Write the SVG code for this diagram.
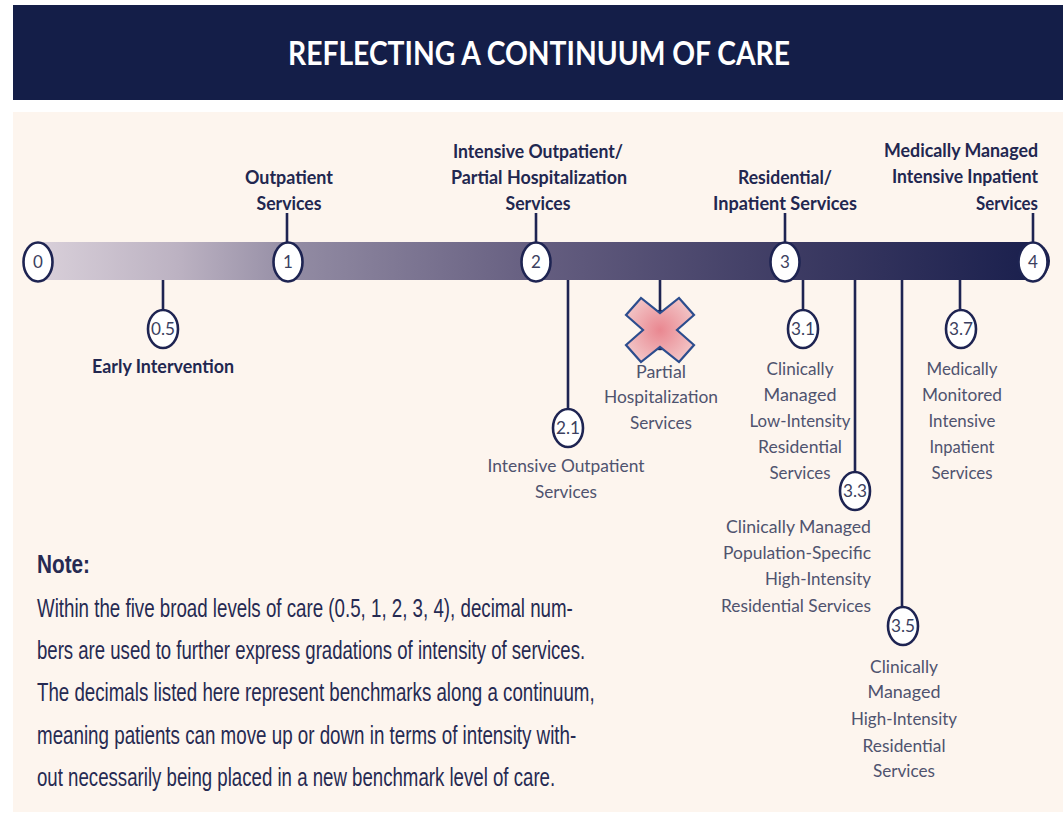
<svg xmlns="http://www.w3.org/2000/svg" width="1063" height="814" viewBox="0 0 1063 814">
<defs>
<linearGradient id="barGrad" x1="24" y1="0" x2="1050" y2="0" gradientUnits="userSpaceOnUse">
<stop offset="0" stop-color="#dcd3dc"/>
<stop offset="0.15" stop-color="#bcb2c2"/>
<stop offset="0.27" stop-color="#918aa2"/>
<stop offset="0.5" stop-color="#655e80"/>
<stop offset="0.75" stop-color="#3d3b63"/>
<stop offset="1" stop-color="#181e4c"/>
</linearGradient>
<radialGradient id="xGrad" cx="660" cy="330" r="40" gradientUnits="userSpaceOnUse">
<stop offset="0" stop-color="#e98790"/>
<stop offset="1" stop-color="#f3cacb"/>
</radialGradient>
<style>
.bold{font-family:Lato,"Liberation Sans",sans-serif;font-weight:bold;font-size:19px;fill:#222750;}
.reg{font-family:Lato,"Liberation Sans",sans-serif;font-size:17.5px;fill:#4f536e;}
.num{font-family:Lato,"Liberation Sans",sans-serif;font-size:17px;fill:#3b3f60;text-anchor:middle;}
.note{font-family:"Liberation Sans",sans-serif;font-size:26px;fill:#262a52;}
.mid{text-anchor:middle;}
.end{text-anchor:end;}
.node ellipse{fill:#ffffff;stroke:#1e2452;stroke-width:2.6;}
.conn line{stroke:#1e2452;stroke-width:2.6;}
</style>
</defs>
<rect x="0" y="0" width="1063" height="814" fill="#ffffff"/>
<rect x="13" y="5" width="1050" height="95" fill="#141e48"/>
<text x="288" y="65" font-family="Lato,'Liberation Sans',sans-serif" font-weight="bold" font-size="32" fill="#ffffff" textLength="502" lengthAdjust="spacingAndGlyphs">REFLECTING A CONTINUUM OF CARE</text>
<rect x="13" y="112" width="1050" height="700" fill="#fdf5ee"/>

<path d="M38 242 H1031 A19 19 0 0 1 1031 280 H38 Z" fill="url(#barGrad)"/>

<g id="connectors" class="conn">
<line x1="287" y1="213" x2="287" y2="243"/>
<line x1="536" y1="213" x2="536" y2="243"/>
<line x1="785" y1="213" x2="785" y2="243"/>
<line x1="1033" y1="213" x2="1033" y2="243"/>
<line x1="163" y1="280" x2="163" y2="311"/>
<line x1="568" y1="280" x2="568" y2="410"/>
<line x1="660" y1="280" x2="660" y2="312"/>
<line x1="803" y1="280" x2="803" y2="311"/>
<line x1="855" y1="280" x2="855" y2="473"/>
<line x1="902" y1="280" x2="902" y2="608"/>
<line x1="960" y1="280" x2="960" y2="311"/>
</g>

<g id="node-0" class="node"><ellipse cx="38" cy="262" rx="14.5" ry="19.5"/><text class="num" x="38" y="268">0</text></g>
<g id="node-1" class="node"><ellipse cx="288" cy="262" rx="14.5" ry="19.5"/><text class="num" x="288" y="268">1</text>
<text class="bold mid" x="289" y="184" textLength="88" lengthAdjust="spacingAndGlyphs">Outpatient</text>
<text class="bold mid" x="289" y="210" textLength="65" lengthAdjust="spacingAndGlyphs">Services</text></g>
<g id="node-2" class="node"><ellipse cx="536" cy="262" rx="14.5" ry="19.5"/><text class="num" x="536" y="268">2</text>
<text class="bold mid" x="538" y="158" textLength="170" lengthAdjust="spacingAndGlyphs">Intensive Outpatient/</text>
<text class="bold mid" x="539" y="184" textLength="176" lengthAdjust="spacingAndGlyphs">Partial Hospitalization</text>
<text class="bold mid" x="538" y="210" textLength="65" lengthAdjust="spacingAndGlyphs">Services</text></g>
<g id="node-3" class="node"><ellipse cx="785" cy="262" rx="14.5" ry="19.5"/><text class="num" x="785" y="268">3</text>
<text class="bold mid" x="785" y="184" textLength="94" lengthAdjust="spacingAndGlyphs">Residential/</text>
<text class="bold mid" x="785" y="210" textLength="144" lengthAdjust="spacingAndGlyphs">Inpatient Services</text></g>
<g id="node-4" class="node"><ellipse cx="1033" cy="262" rx="14.5" ry="19.5"/><text class="num" x="1033" y="268">4</text>
<text class="bold end" x="1038" y="157" textLength="154" lengthAdjust="spacingAndGlyphs">Medically Managed</text>
<text class="bold end" x="1038" y="183" textLength="146" lengthAdjust="spacingAndGlyphs">Intensive Inpatient</text>
<text class="bold end" x="1038" y="210" textLength="62" lengthAdjust="spacingAndGlyphs">Services</text></g>

<g id="node-0-5" class="node"><ellipse cx="163" cy="329" rx="15" ry="19"/><text class="num" x="163" y="335" textLength="24" lengthAdjust="spacingAndGlyphs">0.5</text>
<text class="bold mid" x="163" y="373" textLength="142" lengthAdjust="spacingAndGlyphs">Early Intervention</text></g>

<g id="node-2-1" class="node"><ellipse cx="568" cy="428" rx="15" ry="19"/><text class="num" x="568" y="434" textLength="24" lengthAdjust="spacingAndGlyphs">2.1</text>
<text class="reg mid" x="566" y="472" textLength="157" lengthAdjust="spacingAndGlyphs">Intensive Outpatient</text>
<text class="reg mid" x="566" y="498" textLength="62" lengthAdjust="spacingAndGlyphs">Services</text></g>

<g id="node-partial" class="node"><ellipse cx="660" cy="330" rx="15" ry="19"/>
<polygon points="626,315 641,298 660,313 679,298 694,315 677,330 694,345 679,362 660,347 641,362 626,345 643,330" fill="url(#xGrad)" stroke="#2c4d8e" stroke-width="2.2" stroke-linejoin="miter"/>
<text class="reg mid" x="661" y="378" textLength="50" lengthAdjust="spacingAndGlyphs">Partial</text>
<text class="reg mid" x="661" y="403" textLength="114" lengthAdjust="spacingAndGlyphs">Hospitalization</text>
<text class="reg mid" x="661" y="429" textLength="62" lengthAdjust="spacingAndGlyphs">Services</text></g>

<g id="node-3-1" class="node"><ellipse cx="803" cy="329" rx="15" ry="19"/><text class="num" x="803" y="335" textLength="24" lengthAdjust="spacingAndGlyphs">3.1</text>
<text class="reg mid" x="800" y="375" textLength="67" lengthAdjust="spacingAndGlyphs">Clinically</text>
<text class="reg mid" x="800" y="401" textLength="73" lengthAdjust="spacingAndGlyphs">Managed</text>
<text class="reg mid" x="800" y="427" textLength="101" lengthAdjust="spacingAndGlyphs">Low-Intensity</text>
<text class="reg mid" x="800" y="453" textLength="84" lengthAdjust="spacingAndGlyphs">Residential</text>
<text class="reg mid" x="800" y="479" textLength="61" lengthAdjust="spacingAndGlyphs">Services</text></g>

<g id="node-3-3" class="node"><ellipse cx="855" cy="491" rx="15" ry="19"/><text class="num" x="855" y="497" textLength="24" lengthAdjust="spacingAndGlyphs">3.3</text>
<text class="reg end" x="871" y="533" textLength="145" lengthAdjust="spacingAndGlyphs">Clinically Managed</text>
<text class="reg end" x="871" y="559" textLength="148" lengthAdjust="spacingAndGlyphs">Population-Specific</text>
<text class="reg end" x="871" y="585" textLength="106" lengthAdjust="spacingAndGlyphs">High-Intensity</text>
<text class="reg end" x="871" y="612" textLength="150" lengthAdjust="spacingAndGlyphs">Residential Services</text></g>

<g id="node-3-5" class="node"><ellipse cx="903" cy="626" rx="15" ry="19"/><text class="num" x="903" y="632" textLength="24" lengthAdjust="spacingAndGlyphs">3.5</text>
<text class="reg mid" x="904" y="673" textLength="68" lengthAdjust="spacingAndGlyphs">Clinically</text>
<text class="reg mid" x="904" y="698" textLength="73" lengthAdjust="spacingAndGlyphs">Managed</text>
<text class="reg mid" x="904" y="725" textLength="106" lengthAdjust="spacingAndGlyphs">High-Intensity</text>
<text class="reg mid" x="904" y="752" textLength="83" lengthAdjust="spacingAndGlyphs">Residential</text>
<text class="reg mid" x="904" y="777" textLength="62" lengthAdjust="spacingAndGlyphs">Services</text></g>

<g id="node-3-7" class="node"><ellipse cx="961" cy="329" rx="15" ry="19"/><text class="num" x="961" y="335" textLength="24" lengthAdjust="spacingAndGlyphs">3.7</text>
<text class="reg mid" x="962" y="375" textLength="71" lengthAdjust="spacingAndGlyphs">Medically</text>
<text class="reg mid" x="962" y="401" textLength="80" lengthAdjust="spacingAndGlyphs">Monitored</text>
<text class="reg mid" x="962" y="427" textLength="67" lengthAdjust="spacingAndGlyphs">Intensive</text>
<text class="reg mid" x="962" y="453" textLength="65" lengthAdjust="spacingAndGlyphs">Inpatient</text>
<text class="reg mid" x="962" y="479" textLength="61" lengthAdjust="spacingAndGlyphs">Services</text></g>

<g id="note" transform="translate(37,0) scale(0.68,1)">
<text class="note" x="0" y="573" font-weight="bold" textLength="78" lengthAdjust="spacingAndGlyphs">Note:</text>
<text class="note" x="0" y="617" textLength="788" lengthAdjust="spacingAndGlyphs">Within the five broad levels of care (0.5, 1, 2, 3, 4), decimal num-</text>
<text class="note" x="0" y="659" textLength="806" lengthAdjust="spacingAndGlyphs">bers are used to further express gradations of intensity of services.</text>
<text class="note" x="0" y="701" textLength="820" lengthAdjust="spacingAndGlyphs">The decimals listed here represent benchmarks along a continuum,</text>
<text class="note" x="0" y="744" textLength="793" lengthAdjust="spacingAndGlyphs">meaning patients can move up or down in terms of intensity with-</text>
<text class="note" x="0" y="786" textLength="762" lengthAdjust="spacingAndGlyphs">out necessarily being placed in a new benchmark level of care.</text>
</g>
</svg>
